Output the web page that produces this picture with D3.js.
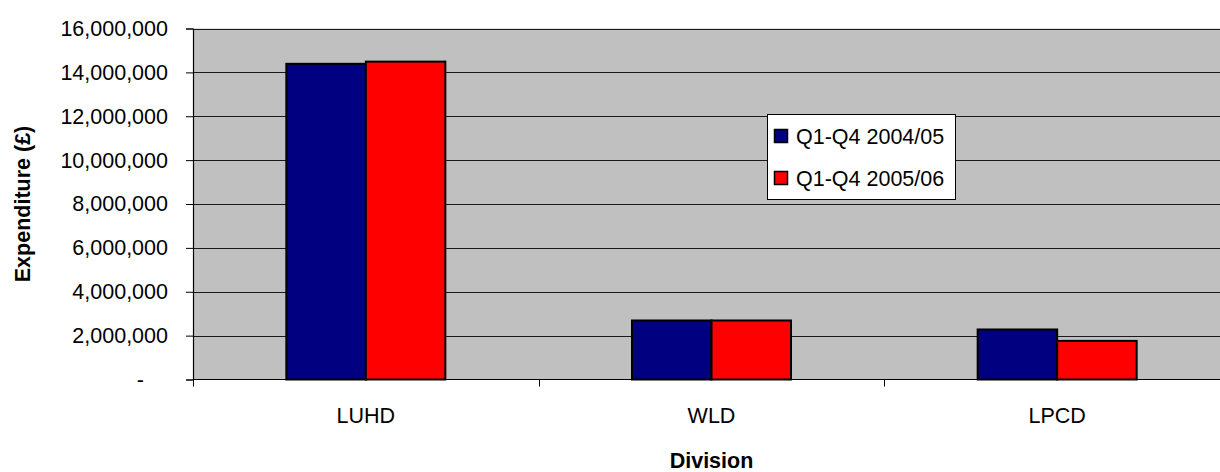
<!DOCTYPE html>
<html>
<head>
<meta charset="utf-8">
<script src="https://cdn.jsdelivr.net/npm/d3@7"></script>
<style>
  html, body { margin: 0; padding: 0; background: #fff; }
  svg { display: block; font-family: "Liberation Sans", Arial, sans-serif; }
</style>
</head>
<body>
<svg id="chart" width="1220" height="472"></svg>
<script>
// Divisional expenditure, two financial years
const divisions = ["LUHD", "WLD", "LPCD"];
const seriesNames = ["Q1-Q4 2004/05", "Q1-Q4 2005/06"];
const spend2004 = [14390000, 2690000, 2280000];
const spend2005 = [14490000, 2690000, 1760000];
const yTicks = [0, 2000000, 4000000, 6000000, 8000000, 10000000, 12000000, 14000000, 16000000];
const seriesColors = ["#000080", "#FF0000"];

const rows = divisions.map((d, i) => ({ division: d, values: [spend2004[i], spend2005[i]] }));

const svg = d3.select("#chart");
const plot = { left: 193, top: 28.5, right: 1230, bottom: 379.5 };

const x0 = d3.scaleBand().domain(divisions).range([plot.left, plot.right]).padding(0);
const groupW = x0.bandwidth() * 0.46;
const x1 = d3.scaleBand().domain(seriesNames).range([0, groupW]).padding(0);
const y = d3.scaleLinear().domain([0, 16000000]).range([plot.bottom, plot.top]);

// plot area background
svg.append("rect")
  .attr("x", plot.left).attr("y", plot.top)
  .attr("width", plot.right - plot.left).attr("height", plot.bottom - plot.top)
  .attr("fill", "#C0C0C0");

// horizontal gridlines
svg.append("g").selectAll("line").data(yTicks.filter(t => t > 0)).join("line")
  .attr("x1", plot.left).attr("x2", plot.right)
  .attr("y1", d => Math.round(y(d)) + 0.5).attr("y2", d => Math.round(y(d)) + 0.5)
  .attr("stroke", "#1a1a1a").attr("stroke-width", 1.2);

// bars
const groups = svg.append("g").selectAll("g").data(rows).join("g")
  .attr("transform", d => `translate(${x0(d.division) + (x0.bandwidth() - groupW) / 2},0)`);
groups.selectAll("rect").data(d => d.values.map((v, i) => ({ v, i }))).join("rect")
  .attr("x", d => x1(seriesNames[d.i]))
  .attr("y", d => y(d.v))
  .attr("width", x1.bandwidth())
  .attr("height", d => y(0) - y(d.v))
  .attr("fill", d => seriesColors[d.i])
  .attr("stroke", "#000").attr("stroke-width", 2);

// y axis
const yAxis = d3.axisLeft(y).tickValues(yTicks).tickSize(7).tickPadding(18)
  .tickFormat(d => d === 0 ? "-" : d3.format(",")(d));
const gy = svg.append("g").attr("transform", `translate(${plot.left},0)`).call(yAxis);
gy.select(".domain").attr("stroke", "#000").attr("stroke-width", 1.2);
gy.selectAll(".tick line").attr("stroke", "#000");
gy.selectAll(".tick text").attr("font-size", 21.5).attr("fill", "#000")
  .attr("font-family", "Liberation Sans, Arial, sans-serif")
  .attr("dx", d => d === 0 ? -24 : 0);

// x axis with ticks on category boundaries
const gx = svg.append("g").attr("transform", `translate(0,${plot.bottom})`);
gx.append("line").attr("x1", plot.left).attr("x2", plot.right).attr("stroke", "#000").attr("stroke-width", 1.2);
const bounds = divisions.map(d => x0(d));
gx.selectAll("line.tk").data(bounds).join("line").attr("class", "tk")
  .attr("x1", d => Math.round(d) + 0.5).attr("x2", d => Math.round(d) + 0.5)
  .attr("y1", 0).attr("y2", 7).attr("stroke", "#000");
gx.selectAll("text").data(divisions).join("text")
  .attr("x", d => x0(d) + x0.bandwidth() / 2)
  .attr("y", 43)
  .attr("text-anchor", "middle")
  .attr("font-size", 21.5)
  .attr("fill", "#000")
  .text(d => d);

// axis titles
svg.append("text")
  .attr("x", (plot.left + plot.right) / 2).attr("y", 468)
  .attr("text-anchor", "middle").attr("font-size", 21.5).attr("font-weight", "bold")
  .text("Division");
svg.append("text")
  .attr("transform", `translate(30,${(plot.top + plot.bottom) / 2}) rotate(-90)`)
  .attr("text-anchor", "middle").attr("font-size", 21.5).attr("font-weight", "bold")
  .text("Expenditure (£)");

// legend
const legend = svg.append("g").attr("transform", "translate(767,114)");
legend.append("rect").attr("x", 0.5).attr("y", 0.5).attr("width", 188).attr("height", 85)
  .attr("fill", "#fff").attr("stroke", "#000").attr("stroke-width", 1);
const items = legend.selectAll("g").data(seriesNames).join("g")
  .attr("transform", (d, i) => `translate(0,${i * 42})`);
items.append("rect").attr("x", 7.5).attr("y", 15.5).attr("width", 13).attr("height", 13)
  .attr("fill", (d, i) => seriesColors[i]).attr("stroke", "#000").attr("stroke-width", 1.5);
items.append("text").attr("x", 29).attr("y", 30).attr("font-size", 21.5).attr("fill", "#000")
  .text(d => d);
</script>
</body>
</html>
